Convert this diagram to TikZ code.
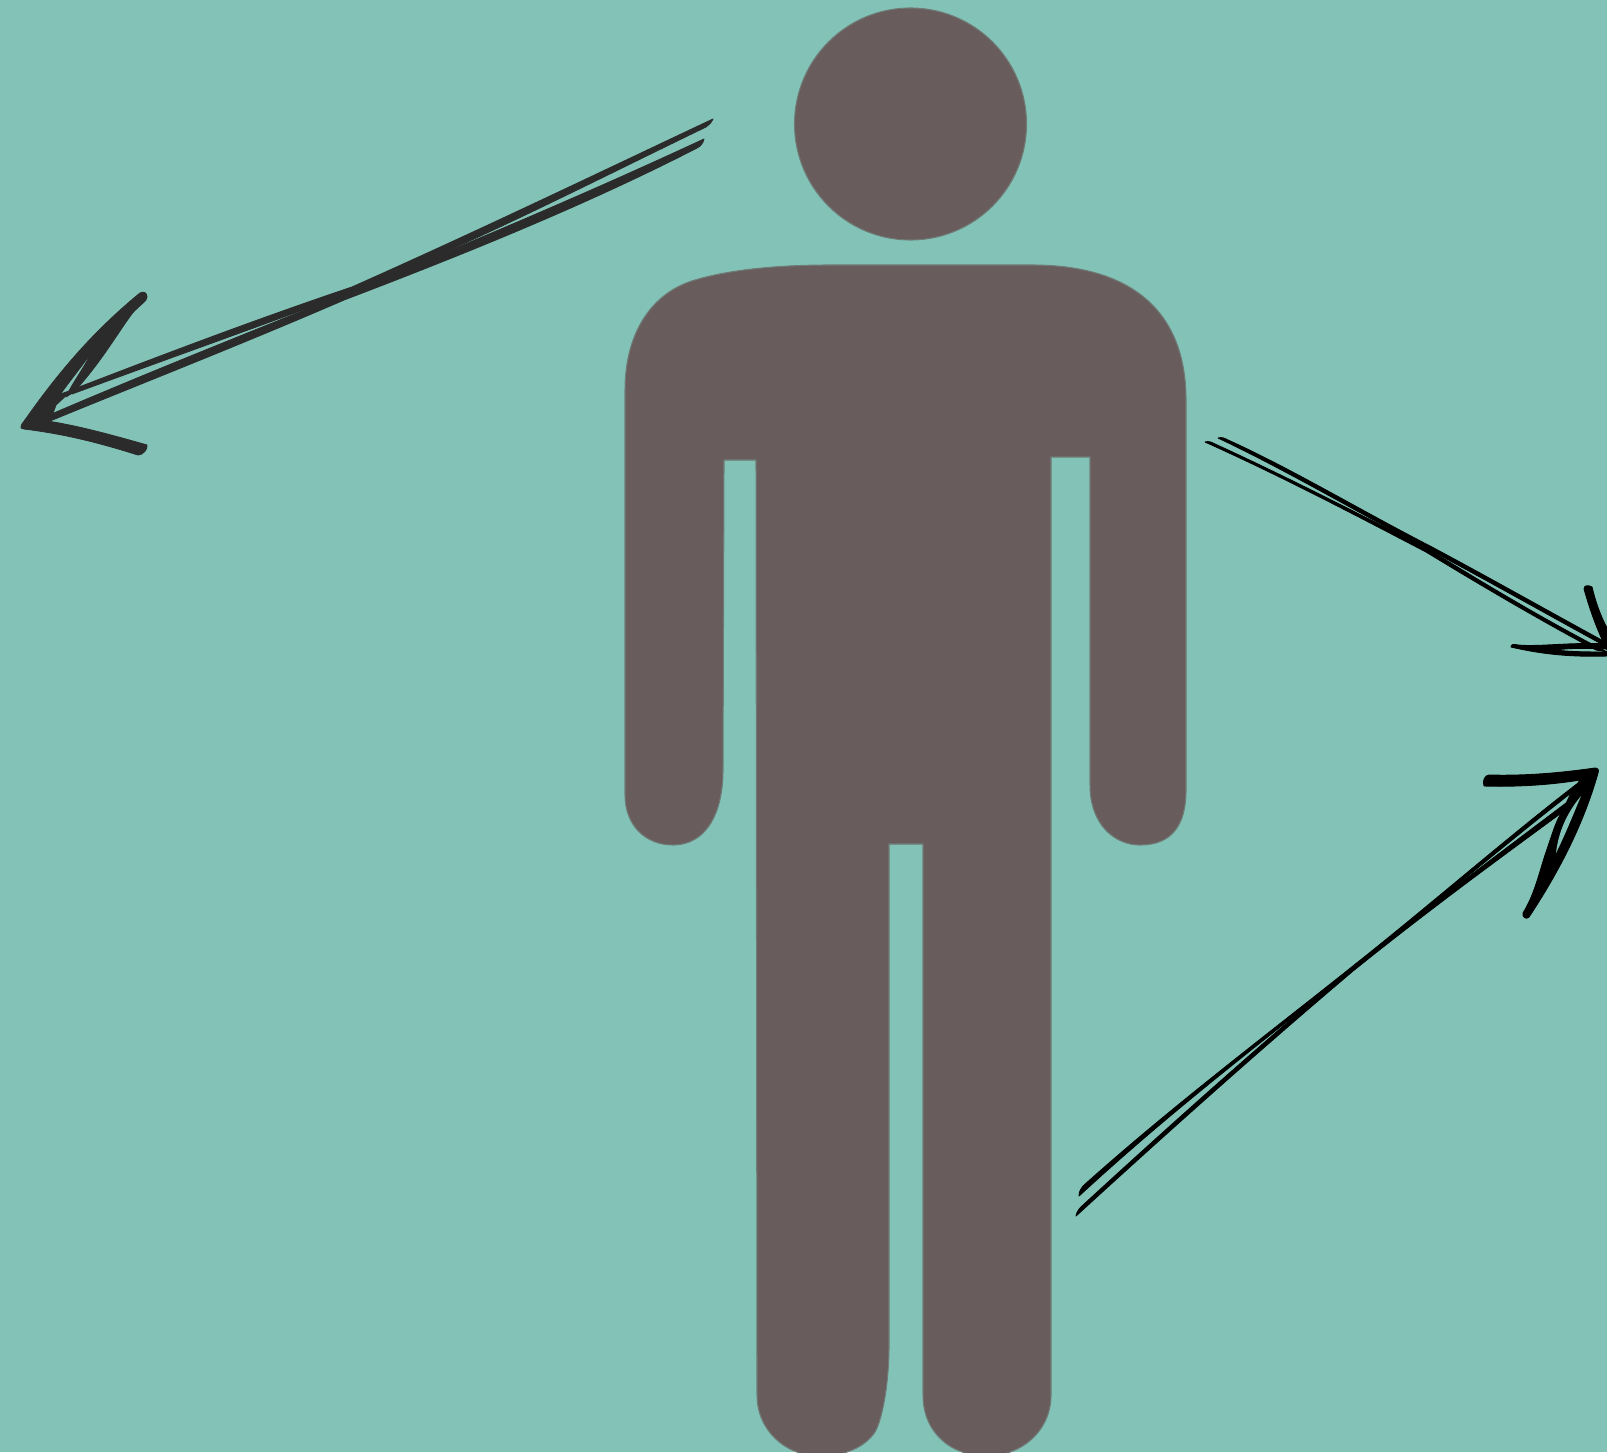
\documentclass[tikz,border=0pt]{standalone}
\usepackage{tikz}
\definecolor{bgteal}{RGB}{131,195,183}
\definecolor{figbrown}{RGB}{104,92,92}
\definecolor{inkgray}{RGB}{43,43,43}
\tikzset{
  figure/.style={fill=figbrown, draw=figbrown!70!bgteal, line width=0.3pt},
  grayink/.style={fill=inkgray, draw=inkgray, line width=0.25pt, line join=round},
  blackink/.style={fill=black, draw=black, line width=0.25pt, line join=round}
}

\begin{document}
\begin{tikzpicture}[x=0.01cm, y=-0.01cm]
  \useasboundingbox (0,0) rectangle (1607,1452);
  \clip (0,0) rectangle (1607,1452);
  \fill[bgteal] (0,0) rectangle (1607,1452);

  \draw[figure] (910.5,124) circle (116);
  \draw[figure] (830,265) -- (1032,265) .. controls (1130,265) and (1186,310) .. (1186,400) -- (1186,790)
    .. controls (1186,825) and (1172,845) .. (1140,845) .. controls (1115,845) and (1090,825) .. (1090,785)
    -- (1090,457) -- (1051,457) -- (1051,1395) .. controls (1051,1432) and (1020,1456) .. (987,1456)
    .. controls (950,1456) and (923,1432) .. (923,1395) -- (923,844) -- (889,844) -- (889,1345)
    .. controls (889,1385) and (882,1420) .. (875,1432) .. controls (865,1447) and (845,1456) .. (820,1456)
    .. controls (785,1456) and (757,1430) .. (757,1395) -- (756,460) -- (724,460) -- (723,770)
    .. controls (723,815) and (705,845) .. (673,845) .. controls (645,845) and (625,825) .. (625,795)
    -- (625,390) .. controls (625,335) and (650,293) .. (695,280) .. controls (725,271) and (770,265) .. (830,265) -- cycle;

  \fill[grayink] (713,119) .. controls (711,123) and (709,125) .. (706,127) .. controls (590,183) and (480,240) .. (354,291)
    .. controls (260,326) and (170,358) .. (72,394) -- (74,389) .. controls (170,352) and (260,318) .. (352,287)
    .. controls (480,230) and (590,177) .. (713,119) -- cycle;
  \fill[grayink] (704,139) .. controls (703,143) and (701,146) .. (697,148) .. controls (590,203) and (470,252) .. (344,300)
    .. controls (240,345) and (140,384) .. (50,421) -- (47,416) .. controls (140,376) and (240,336) .. (342,295)
    .. controls (470,243) and (590,192) .. (704,139) -- cycle;
  \filldraw[grayink] (21,428) .. controls (21,424) and (23,423) .. (25,420) .. controls (60,370) and (95,330) .. (140,293)
    .. controls (144,291) and (147,293) .. (147,297) .. controls (147,300) and (145,301) .. (143,303)
    .. controls (110,332) and (105,352) .. (93,350) .. controls (78,372) and (62,390) .. (48,412) -- (47,421)
    .. controls (80,426) and (115,436) .. (147,445) .. controls (148,449) and (143,455) .. (138,455)
    .. controls (100,443) and (65,434) .. (24,429) -- cycle;
  \fill[grayink] (146,297) .. controls (125,318) and (110,352) .. (74,392) -- (66,397) .. controls (75,378) and (85,368) .. (93,348)
    .. controls (105,330) and (120,310) .. (146,297) -- cycle;
  \fill[grayink] (25,420) -- (52,397) -- (72,390) -- (56,405) -- (50,421) -- cycle;

  \fill[blackink] (1218,438) .. controls (1222,437) and (1224,438) .. (1228,440) .. controls (1290,468) and (1360,510) .. (1430,546)
    .. controls (1490,578) and (1550,612) .. (1607,643) -- (1607,647) .. controls (1550,616) and (1490,582) .. (1428,549)
    .. controls (1360,514) and (1290,472) .. (1218,438) -- cycle;
  \fill[blackink] (1205,442) .. controls (1209,441) and (1211,442) .. (1215,444) .. controls (1285,476) and (1355,512) .. (1428,549)
    .. controls (1485,584) and (1545,620) .. (1607,652) -- (1596,650) .. controls (1545,623) and (1485,588) .. (1426,552)
    .. controls (1355,515) and (1285,478) .. (1205,442) -- cycle;
  \fill[blackink] (1584,589) .. controls (1584,585) and (1588,585) .. (1592,587) .. controls (1595,600) and (1600,615) .. (1607,628)
    -- (1607,650) .. controls (1597,630) and (1590,610) .. (1584,589) -- cycle;
  \fill[blackink] (1511,647) .. controls (1511,644) and (1514,644) .. (1518,645) .. controls (1540,647) and (1570,642) .. (1607,644)
    -- (1607,649) .. controls (1585,648) and (1570,648) .. (1555,650) .. controls (1572,652) and (1590,652) .. (1607,652)
    -- (1607,656) .. controls (1575,657) and (1545,655) .. (1511,647) -- cycle;

  \fill[blackink] (1079,1196) .. controls (1079,1191) and (1081,1189) .. (1083,1186) .. controls (1170,1108) and (1260,1040) .. (1353,966)
    .. controls (1430,905) and (1510,835) .. (1582,780) -- (1580,786)
    .. controls (1510,840) and (1430,908) .. (1355,968) .. controls (1260,1043) and (1170,1112) .. (1079,1196) -- cycle;
  \fill[blackink] (1076,1216) .. controls (1077,1211) and (1079,1209) .. (1082,1206) .. controls (1170,1125) and (1260,1045) .. (1351,968)
    .. controls (1430,905) and (1500,853) .. (1570,800) -- (1568,808)
    .. controls (1500,858) and (1430,909) .. (1353,971) .. controls (1262,1048) and (1170,1130) .. (1076,1216) -- cycle;
  \fill[blackink] (1484,786) .. controls (1482,781) and (1485,775) .. (1489,775) .. controls (1525,776) and (1560,773) .. (1595,768)
    .. controls (1598,768) and (1599,770) .. (1598,773) .. controls (1588,808) and (1570,855) .. (1529,917)
    .. controls (1526,920) and (1522,917) .. (1523,913) .. controls (1534,895) and (1538,877) .. (1545,855)
    .. controls (1552,835) and (1556,820) .. (1562,812) -- (1570,795) -- (1580,780) .. controls (1550,785) and (1515,787) .. (1484,786) -- cycle;
  \fill[bgteal] (1581,796) .. controls (1573,815) and (1565,835) .. (1556,853) .. controls (1558,835) and (1565,815) .. (1581,796) -- cycle;
\end{tikzpicture}
\end{document}
